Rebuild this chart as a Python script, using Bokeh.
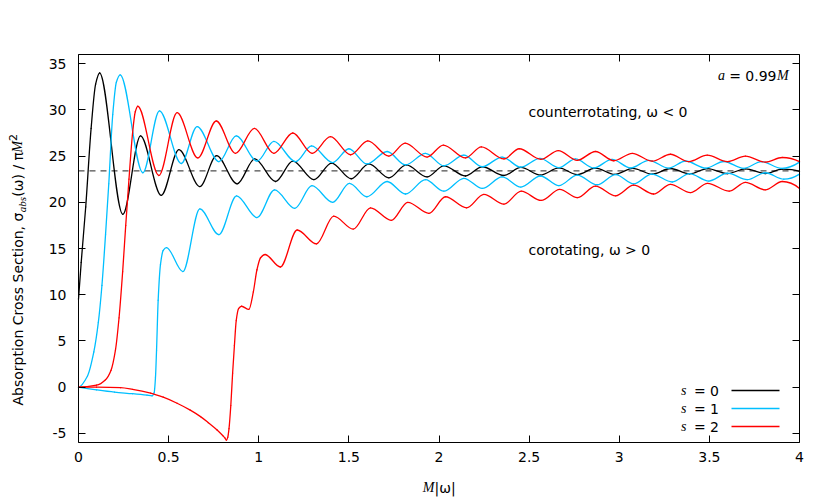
import numpy as np
from bokeh.plotting import figure
from bokeh.models import (Range1d, FixedTicker, LinearAxis, Label,
                          BoxAnnotation, ColumnDataSource)
from bokeh.embed import file_html
from bokeh.resources import INLINE

# ---------------- data ----------------
x_ticks = [0, 0.5, 1, 1.5, 2, 2.5, 3, 3.5, 4]
x_tick_labels = ["0", "0.5", "1", "1.5", "2", "2.5", "3", "3.5", "4"]
y_ticks = [-5, 0, 5, 10, 15, 20, 25, 30, 35]
y_tick_labels = ["-5", "0", "5", "10", "15", "20", "25", "30", "35"]
x_limits = [0, 4]
y_limits = [-6, 36]

geo_limit = 23.4  # dashed high-frequency limit

# s = 0 (scalar)
s0_x = [0, 0.015, 0.04, 0.07, 0.095, 0.117, 0.246, 0.344, 0.459, 0.557, 0.673,
        0.766, 0.88, 0.978, 1.093, 1.189, 1.306, 1.404, 1.513, 1.611, 1.722,
        1.818, 1.934, 2.027, 2.147, 2.24, 2.36, 2.454, 2.563, 2.665, 2.767,
        2.868, 2.975, 3.075, 3.183, 3.284, 3.39, 3.49, 3.6, 3.7, 3.81, 3.905, 4.0]
s0_y = [9.5, 13.5, 19.5, 28.0, 32.8, 34.0, 18.7, 27.2, 20.75, 25.7, 21.7,
        25.05, 22.0, 24.7, 22.25, 24.45, 22.45, 24.25, 22.55, 24.15, 22.65,
        24.05, 22.75, 23.95, 22.85, 23.85, 22.9, 23.78, 22.95, 23.72, 23.0,
        23.7, 23.02, 23.68, 23.05, 23.66, 23.08, 23.64, 23.1, 23.62, 23.12, 23.6, 23.35]

# s = 1, counterrotating (upper cyan)
s1_counter_x = [0, 0.05, 0.085, 0.11, 0.13, 0.15, 0.168, 0.19, 0.21, 0.231, 0.357,
                0.449, 0.57, 0.658, 0.779, 0.875, 0.991, 1.084, 1.204, 1.293, 1.41,
                1.5, 1.6, 1.712, 1.814, 1.925, 2.027, 2.138, 2.24, 2.35, 2.454,
                2.56, 2.665, 2.757, 2.859, 2.96, 3.063, 3.164, 3.275, 3.368, 3.48,
                3.58, 3.69, 3.79, 3.9, 4.0]
s1_counter_y = [0, 1.2, 3.8, 7.0, 11.0, 16.5, 22.0, 29.5, 33.0, 33.8, 23.2,
                29.9, 24.2, 28.2, 24.4, 27.2, 24.45, 26.6, 24.4, 26.1, 24.3,
                25.8, 24.15, 25.5, 24.05, 25.3, 23.95, 25.1, 23.85, 24.9, 23.8,
                24.75, 23.75, 24.7, 23.72, 24.65, 23.72, 24.55, 23.7, 24.47, 23.7,
                24.42, 23.68, 24.4, 23.68, 24.35]

# s = 1, corotating (lower cyan)
s1_co_x = [0, 0.1, 0.2, 0.3, 0.38, 0.408, 0.42, 0.427, 0.433, 0.442, 0.455, 0.47,
           0.488, 0.579, 0.673, 0.779, 0.877, 0.99, 1.088, 1.2, 1.295, 1.41, 1.503,
           1.6, 1.712, 1.814, 1.925, 2.027, 2.138, 2.24, 2.35, 2.454, 2.563, 2.665,
           2.767, 2.877, 2.98, 3.08, 3.18, 3.294, 3.39, 3.497, 3.6, 3.71, 3.81,
           3.913, 4.0]
s1_co_y = [0, -0.3, -0.55, -0.72, -0.88, -0.95, -0.6, 1.0, 4.0, 9.4, 13.3, 14.8,
           15.1, 12.5, 19.3, 16.5, 20.7, 18.35, 21.35, 19.35, 21.8, 20.0, 22.05,
           20.6, 22.25, 20.9, 22.45, 21.2, 22.6, 21.5, 22.75, 21.65, 22.85, 21.8,
           22.95, 21.9, 23.0, 22.0, 23.05, 22.2, 23.1, 22.3, 23.15, 22.45, 23.2,
           22.5, 23.05]

# s = 2, counterrotating (upper red)
s2_counter_x = [0, 0.1, 0.15, 0.18, 0.205, 0.225, 0.245, 0.262, 0.28, 0.3, 0.315,
                0.329, 0.446, 0.547, 0.662, 0.764, 0.871, 0.976, 1.084, 1.189,
                1.296, 1.398, 1.509, 1.605, 1.722, 1.812, 1.934, 2.024, 2.147,
                2.235, 2.36, 2.445, 2.565, 2.662, 2.767, 2.868, 2.97, 3.072, 3.183,
                3.284, 3.386, 3.488, 3.6, 3.7, 3.81, 3.904, 4.0]
s2_counter_y = [0, 0.2, 0.8, 1.8, 4.0, 7.5, 12.5, 17.5, 22.5, 27.5, 29.8,
                30.4, 22.9, 29.7, 24.8, 28.8, 25.3, 28.0, 25.3, 27.5,
                25.3, 27.1, 25.15, 26.65, 25.0, 26.4, 24.9, 26.2, 24.8,
                26.0, 24.7, 25.8, 24.65, 25.6, 24.55, 25.5, 24.5, 25.3, 24.45,
                25.2, 24.4, 25.1, 24.4, 25.0, 24.35, 24.85, 24.4]

# s = 2, corotating (lower red)
s2_co_x = [0, 0.1, 0.233, 0.3, 0.4, 0.47, 0.547, 0.62, 0.677, 0.72, 0.769, 0.8,
           0.812, 0.821, 0.828, 0.835, 0.845, 0.855, 0.865, 0.875, 0.888, 0.905,
           0.945, 0.97, 0.99, 1.01, 1.035, 1.12, 1.213, 1.32, 1.416, 1.524, 1.62,
           1.735, 1.827, 1.944, 2.036, 2.153, 2.249, 2.36, 2.456, 2.567, 2.67,
           2.767, 2.868, 2.98, 3.08, 3.19, 3.284, 3.395, 3.49, 3.61, 3.7, 3.81,
           3.904, 4.0]
s2_co_y = [0, -0.01, -0.07, -0.25, -0.65, -1.1, -1.75, -2.5, -3.2, -3.85, -4.65, -5.25,
           -5.5, -5.75, -5.45, -4.5, -2.0, 1.5, 4.5, 7.2, 8.5, 8.75,
           8.4, 10.3, 12.7, 14.0, 14.35, 13.0, 17.0, 15.5, 18.5, 17.1, 19.4,
           18.05, 20.0, 18.8, 20.6, 19.4, 20.85, 19.8, 21.2, 20.2, 21.4,
           20.5, 21.75, 20.7, 21.85, 20.9, 21.95, 21.05, 22.05, 21.2, 22.15, 21.35,
           22.25, 21.5]

COL_S0 = "#000000"
COL_S1 = "#00BFFF"
COL_S2 = "#FF0000"


# ---------------- smooth (monotone cubic) rendering via Bezier glyphs ----------------
def _end_slope(h0, h1, d0, d1):
    m = ((2 * h0 + h1) * d0 - h0 * d1) / (h0 + h1)
    if np.sign(m) != np.sign(d0):
        m = 0.0
    elif np.sign(d0) != np.sign(d1) and abs(m) > abs(3 * d0):
        m = 3 * d0
    return m


def bezier_source(xs, ys):
    x = np.asarray(xs, float)
    y = np.asarray(ys, float)
    h = np.diff(x)
    d = np.diff(y) / h
    n = len(x)
    m = np.zeros(n)
    for k in range(1, n - 1):
        if d[k - 1] * d[k] > 0:
            w1 = 2 * h[k] + h[k - 1]
            w2 = h[k] + 2 * h[k - 1]
            m[k] = (w1 + w2) / (w1 / d[k - 1] + w2 / d[k])
    m[0] = _end_slope(h[0], h[1], d[0], d[1])
    m[-1] = _end_slope(h[-1], h[-2], d[-1], d[-2])
    return ColumnDataSource(dict(
        x0=x[:-1], y0=y[:-1], x1=x[1:], y1=y[1:],
        cx0=x[:-1] + h / 3, cy0=y[:-1] + m[:-1] * h / 3,
        cx1=x[1:] - h / 3, cy1=y[1:] - m[1:] * h / 3))


# ---------------- layout: canvas = frame; plot box placed via the ranges ----------------
W, H = 830, 498
BOX_L, BOX_R, BOX_T, BOX_B = 78, 799, 54, 442   # pixel box of the data area
sx = (BOX_R - BOX_L) / (x_limits[1] - x_limits[0])
sy = (BOX_B - BOX_T) / (y_limits[1] - y_limits[0])
xr = Range1d(x_limits[0] - BOX_L / sx, x_limits[1] + (W - BOX_R) / sx)
yr = Range1d(y_limits[0] - (H - BOX_B) / sy, y_limits[1] + BOX_T / sy)

p = figure(width=W, height=H, output_backend="svg", toolbar_location=None,
           x_range=xr, y_range=yr, title=None,
           min_border=0, min_border_left=0, min_border_right=0,
           min_border_top=0, min_border_bottom=0,
           x_axis_type=None, y_axis_type=None)
p.background_fill_color = "white"
p.border_fill_color = "white"
p.outline_line_color = None
p.xgrid.visible = False
p.ygrid.visible = False

FONT = "DejaVu Sans"
MFONT = "Liberation Serif"


def make_axis(ticks, labels, loc, bounds, show, standoff=10):
    ax = LinearAxis(fixed_location=loc, bounds=tuple(bounds))
    ax.ticker = FixedTicker(ticks=ticks)
    ax.axis_line_color = "black"
    ax.axis_line_width = 1
    ax.major_tick_in = 7
    ax.major_tick_out = 0
    ax.major_tick_line_color = "black"
    ax.major_tick_line_width = 1
    ax.minor_tick_line_color = None
    if show:
        ax.major_label_overrides = dict(zip(ticks, labels))
        ax.major_label_text_font = FONT
        ax.major_label_text_font_size = "14px"
        ax.major_label_text_color = "black"
        ax.major_label_standoff = standoff
    else:
        ax.major_label_text_color = None
    return ax


p.add_layout(make_axis(x_ticks, x_tick_labels, y_limits[0], x_limits, True, 9), "below")
p.add_layout(make_axis(x_ticks, x_tick_labels, y_limits[1], x_limits, False), "above")
p.add_layout(make_axis(y_ticks, y_tick_labels, x_limits[0], y_limits, True, 12), "left")
p.add_layout(make_axis(y_ticks, y_tick_labels, x_limits[1], y_limits, False), "right")

# dashed limit line across the data area
p.line(x=x_limits, y=[geo_limit, geo_limit], line_color="#222222",
       line_width=1, line_dash="6 5")

# curves
for xs, ys, col in [(s0_x, s0_y, COL_S0),
                    (s1_counter_x, s1_counter_y, COL_S1),
                    (s1_co_x, s1_co_y, COL_S1),
                    (s2_counter_x, s2_counter_y, COL_S2),
                    (s2_co_x, s2_co_y, COL_S2)]:
    p.bezier(x0="x0", y0="y0", x1="x1", y1="y1", cx0="cx0", cy0="cy0",
             cx1="cx1", cy1="cy1", source=bezier_source(xs, ys),
             line_color=col, line_width=1.3, line_cap="round")


# ---------------- texts (screen units, origin bottom-left of canvas) ----------------
def txt(t, X, Y, font=FONT, size="14px", style="normal", align="left", angle=0.0):
    p.add_layout(Label(x=X, y=H - Y, x_units="screen", y_units="screen", text=t,
                       text_font=font, text_font_size=size, text_font_style=style,
                       text_align=align, text_baseline="middle", angle=angle,
                       text_color="black"))


ROT = np.pi / 2
# y axis label (pieces, read bottom to top)
txt("Absorption Cross Section, σ", 17, 405, angle=ROT)
txt("abs", 21, 211.8, font=MFONT, size="11px", style="italic", angle=ROT)
txt("(ω) / π", 17, 196.2, angle=ROT)
txt("M", 17, 152.1, font=MFONT, style="italic", angle=ROT)
txt("2", 12, 140.4, size="11px", angle=ROT)

# x axis label
txt("M", 422.3, 487, font=MFONT, style="italic")
txt("|ω|", 434, 487)

# annotations
txt("a", 724.5, 75, font=MFONT, style="italic", align="right")
txt("= 0.99", 776, 75, align="right")
txt("M", 776.5, 75, font=MFONT, style="italic")
txt("counterrotating, ω < 0", 528, 111)
txt("corotating, ω > 0", 528, 249)

# legend
for i, (lab, col) in enumerate([("0", COL_S0), ("1", COL_S1), ("2", COL_S2)]):
    Yc = 390 + 18 * i
    txt("s", 686, Yc, font=MFONT, style="italic", align="right")
    txt("= " + lab, 718.5, Yc, align="right")
    p.add_layout(BoxAnnotation(left=731, right=779, bottom=H - Yc - 0.7, top=H - Yc + 0.7,
                               left_units="screen", right_units="screen",
                               bottom_units="screen", top_units="screen",
                               fill_color=col, fill_alpha=1.0, line_color=None))

open("out.html", "w").write(file_html(p, INLINE))
